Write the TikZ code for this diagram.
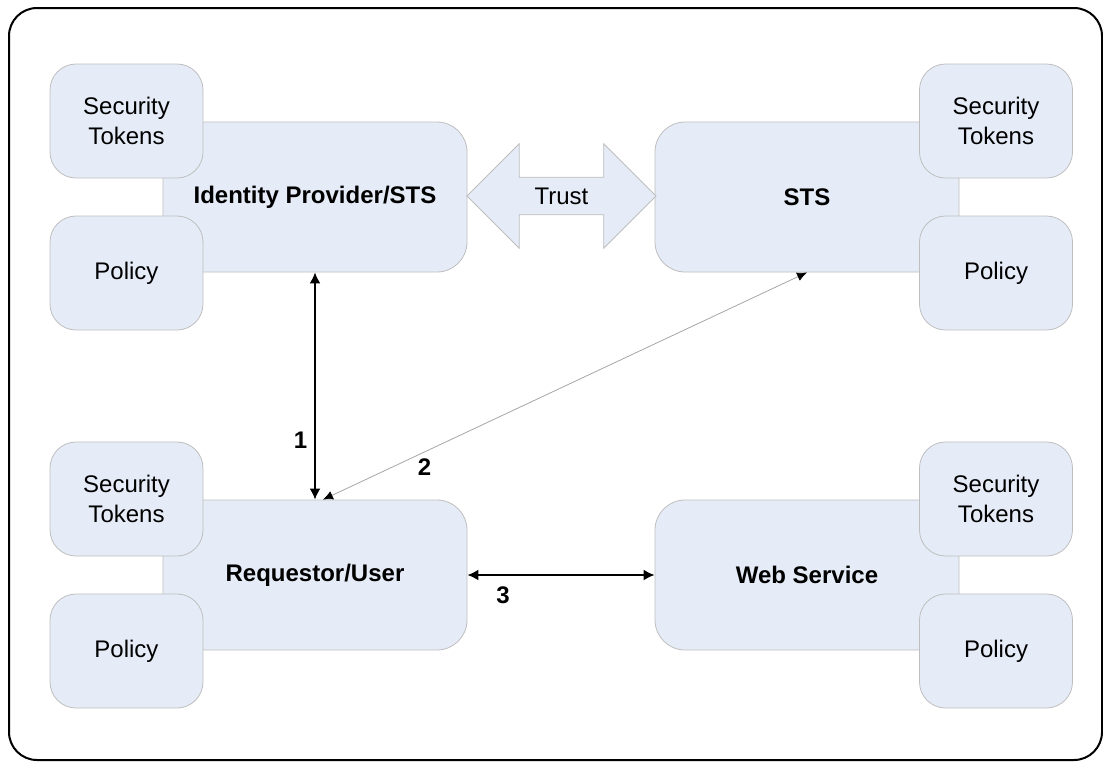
\documentclass[tikz,border=0pt]{standalone}
\usepackage{fontspec}
\setmainfont{Liberation Sans}
\usetikzlibrary{shapes.arrows,arrows.meta}

\definecolor{boxfill}{RGB}{230,236,247}
\definecolor{boxline}{RGB}{190,190,190}

\begin{document}
\begin{tikzpicture}[x=0.5pt, y=-0.5pt,
    font=\fontsize{12}{14}\selectfont,
    partybox/.style={draw=boxline, fill=boxfill, rounded corners=15pt,
      minimum width=152pt, minimum height=75pt,
      font=\fontsize{12}{14}\selectfont\bfseries},
    sidebox/.style={draw=boxline, fill=boxfill, rounded corners=13pt,
      minimum width=76.5pt, minimum height=57pt, align=center, inner sep=0pt,
      font=\fontsize{12}{15}\selectfont},
    trustarrow/.style={double arrow, draw=boxline, fill=boxfill,
      minimum height=94.5pt, inner xsep=0pt, inner ysep=5pt,
      double arrow head extend=16.75pt, double arrow tip angle=90},
    flow/.style={{Latex[length=5.5pt,width=5.5pt]}-{Latex[length=5.5pt,width=5.5pt]}, line width=1pt},
    thinflow/.style={{Latex[length=5pt,width=4.5pt,color=black]}-{Latex[length=5pt,width=4.5pt,color=black]},
      line width=0.4pt, draw=gray!70},
    steplabel/.style={font=\fontsize{12}{14}\selectfont\bfseries}]

  \useasboundingbox (0,0) rectangle (1103,761);
  \draw[line width=1pt, rounded corners=14pt] (9,8) rectangle (1102,760);

  % parties
  \node[partybox] (idp) at (315,197) {Identity Provider/STS};
  \node[partybox] (sts) at (807,197) {STS};
  \node[partybox] (req) at (315,575) {Requestor/User};
  \node[partybox] (ws)  at (807,575) {Web Service};

  % tokens and policy of each party
  \foreach \party/\sx/\sy in {idp/126.5/197, sts/996/197, req/126.5/575, ws/996/575}{
    \node[sidebox] (\party-tok) at (\sx,\sy-76) {Security\\Tokens};
    \node[sidebox] (\party-pol) at (\sx,\sy+76) {Policy};
  }

  \node[trustarrow] (trust) at (561.5,196) {Trust};

  % message flows
  \draw[flow] (idp.south) -- node[steplabel, left, pos=0.74] {1} (req.north);
  \draw[thinflow] ([xshift=4pt]req.north) -- node[steplabel, below, pos=0.21] {2} (sts.south);
  \draw[flow] (req.east) -- node[steplabel, below=2pt, pos=0.19] {3} (ws.west);
\end{tikzpicture}
\end{document}
